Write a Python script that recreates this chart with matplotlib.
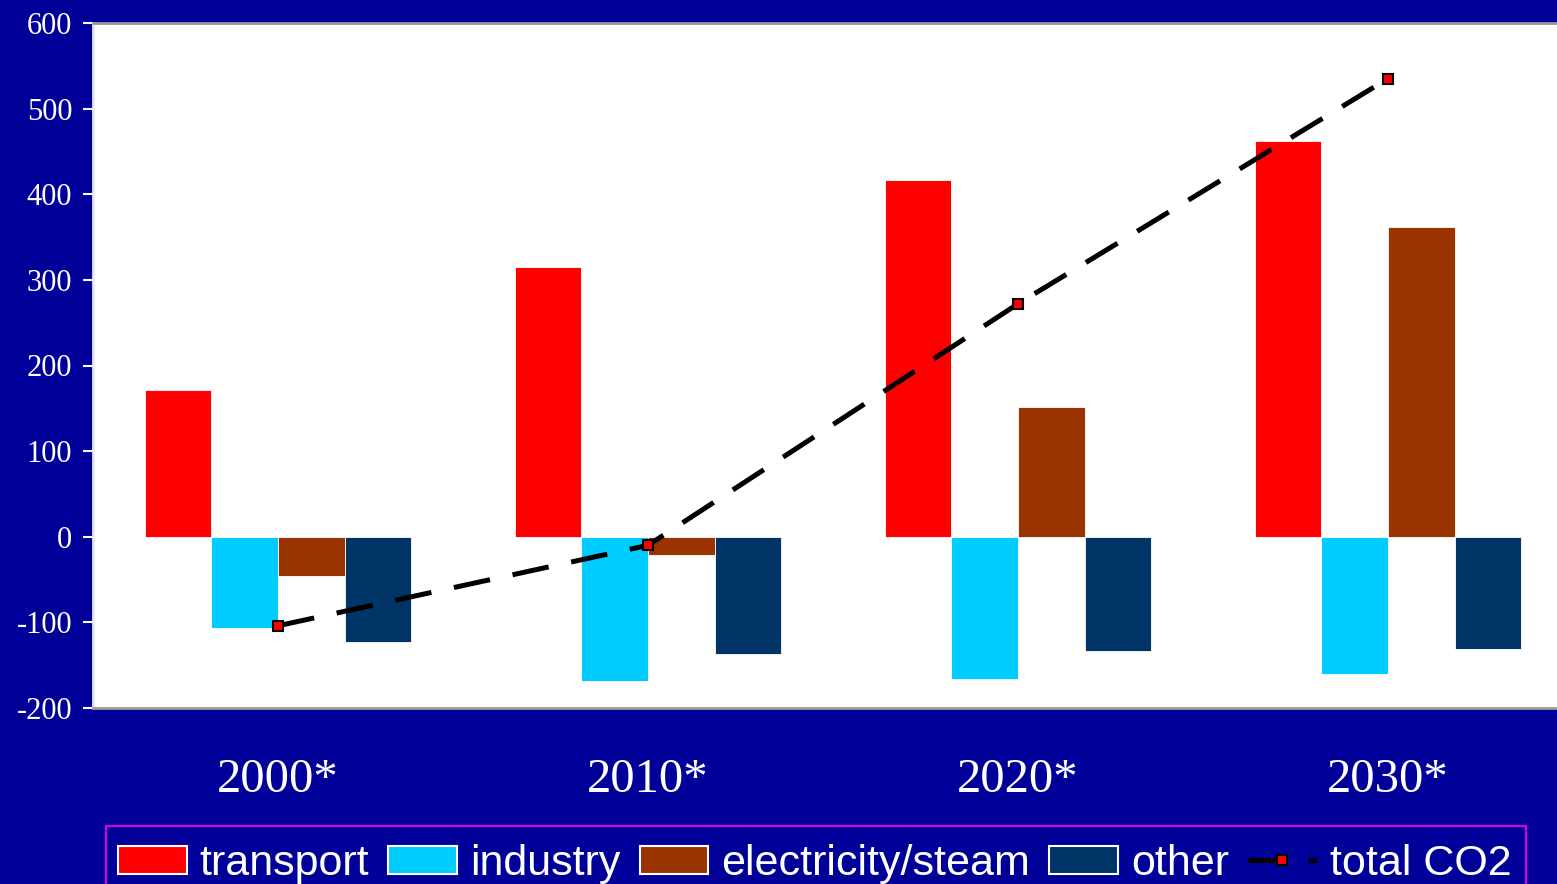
import matplotlib
matplotlib.use("Agg")
import matplotlib.pyplot as plt
from matplotlib.patches import Rectangle
import numpy as np

plt.rcParams["axes.unicode_minus"] = False

years = ["2000*", "2010*", "2020*", "2030*"]
transport = [171, 315, 417, 462]
industry = [-106, -168, -166, -160]
electricity = [-46, -21, 152, 362]
other = [-123, -137, -133, -131]
total_co2 = [-104, -10, 272, 535]

series_names = ["transport", "industry", "electricity/steam", "other"]
series_vals = [transport, industry, electricity, other]
colors = ["#FF0000", "#00CCFF", "#993300", "#003366"]
BG = "#000099"

W, H = 1557, 884
fig = plt.figure(figsize=(W/100, H/100), dpi=100, facecolor=BG)
ax = fig.add_axes([93/W, 1-708/H, 1-93/W, (708-23)/H])
ax.set_facecolor("white")

x = np.arange(len(years))
w = 0.18
offsets = [-1.5*w, -0.5*w, 0.5*w, 1.5*w]
handles = []
for name, vals, c, off in zip(series_names, series_vals, colors, offsets):
    b = ax.bar(x + off, vals, width=w, color=c, edgecolor="white", linewidth=0.6, label=name, zorder=2)
    handles.append(b)

ln, = ax.plot(x, total_co2, color="black", linewidth=3.6, dashes=(7.4, 4.6),
              dash_capstyle="butt", marker="s", markersize=6.5,
              markerfacecolor="#FF0000", markeredgecolor="black", markeredgewidth=1.5,
              label="total CO2", zorder=3)
handles.append(ln)

ax.set_xlim(-0.5, 3.457)
ax.set_ylim(-200, 600)
ax.set_yticks(np.arange(-200, 601, 100))
ax.set_xticks(x)
ax.set_xticklabels(years)

for lab in ax.get_yticklabels():
    lab.set_fontfamily("Liberation Serif")
    lab.set_fontsize(22)
    lab.set_color("white")
for lab in ax.get_xticklabels():
    lab.set_fontfamily("Liberation Serif")
    lab.set_fontsize(35)
    lab.set_color("white")

ax.tick_params(axis="y", direction="out", length=7, width=1.5, color="white", pad=8)
ax.tick_params(axis="x", length=0, pad=36)

ax.spines["left"].set_color("#E8E8E8")
ax.spines["left"].set_linewidth(2)
ax.spines["top"].set_color("#999999")
ax.spines["top"].set_linewidth(2)
ax.spines["bottom"].set_color("#999999")
ax.spines["bottom"].set_linewidth(2)
ax.spines["right"].set_visible(False)

# legend frame drawn separately (extends past the bottom edge)
fig.patches.append(Rectangle((106/W, -0.05), (1526-106)/W, 0.05 + 1-826/H,
                             transform=fig.transFigure, facecolor=BG,
                             edgecolor="#DD00DD", linewidth=1.5, zorder=0))

leg = fig.legend(handles=handles, labels=series_names + ["total CO2"],
                 loc="upper left", bbox_to_anchor=(118/W, 1-844/H),
                 ncol=5, frameon=False,
                 prop={"family": "Liberation Sans", "size": 31},
                 handlelength=1.6, handleheight=0.64, handletextpad=0.3,
                 columnspacing=0.44, borderpad=0, borderaxespad=0)
for t in leg.get_texts():
    t.set_color("white")
for p in leg.get_patches():
    p.set_edgecolor("white")
    p.set_linewidth(1.5)

fig.savefig("out.png", dpi=100, facecolor=BG)
